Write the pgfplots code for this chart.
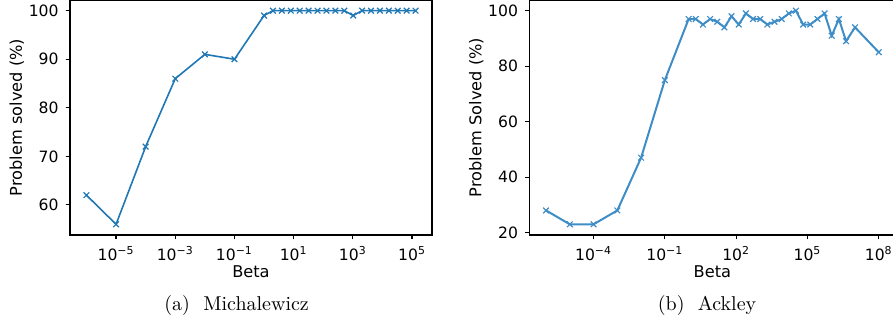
\documentclass[border=0pt]{standalone}
\usepackage{fontspec}
\usepackage{pgfplots}
\pgfplotsset{compat=1.18}
\newfontfamily\dv{DejaVu Sans}
\definecolor{mplblue}{HTML}{1F77B4}
\definecolor{mplblueb}{HTML}{3F8DC6}
\newcommand\tp[1]{10\textsuperscript{#1}}
\pgfplotsset{
  mystyle/.style={
    scale only axis,
    anchor=south west,
    height=117.5pt,
    axis line style={line width=0.6pt, black},
    tick style={line width=0.6pt, black},
    major tick length=2.2pt,
    tick align=outside,
    xtick pos=left, ytick pos=left,
    tick label style={font=\dv\fontsize{7.8}{8}\selectfont},
    /pgf/number format/assume math mode=true,
    xlabel={Beta},
    every axis x label/.style={at={(axis description cs:0.5,0)}, anchor=center, yshift=-18.5pt, font=\dv\fontsize{8.1}{9}\selectfont},
    every axis y label/.style={at={(axis description cs:-0.147,0.5)}, rotate=90, anchor=center, font=\dv\fontsize{8.1}{9}\selectfont},
  }
}
\begin{document}
\begin{tikzpicture}[x=1pt,y=1pt]
\begin{axis}[xmode=log, mystyle,
  at={(35pt,44.5pt)}, width=181pt,
  xmin=2.78e-7, xmax=4.71e5, ymin=53.8, ymax=102.2,
  ytick={60,70,80,90,100},
  xtick={1e-5,1e-3,1e-1,1e1,1e3,1e5},
  xminorticks=false,
  xticklabels={\tp{−5},\tp{−3},\tp{−1},\tp{1},\tp{3},\tp{5}},
  ylabel={Problem solved (\%)},
]
\addplot[color=mplblue, line width=0.8pt, mark=x, mark size=2pt, mark options={line width=0.6pt}] coordinates {
(1e-6,62)(1e-5,56)(1e-4,72)(1e-3,86)(1e-2,91)(1e-1,90)(1,99)(2,100)(4,100)(8,100)(16,100)(32,100)(64,100)(128,100)(256,100)(512,100)(1024,99)(2048,100)(4096,100)(8192,100)(16384,100)(32768,100)(65536,100)(131072,100)
};
\end{axis}
\begin{axis}[xmode=log, mystyle,
  at={(264.7pt,44.5pt)}, width=183pt,
  xmin=2e-7, xmax=5e8, ymin=19.15, ymax=103.85,
  ytick={20,40,60,80,100},
  xtick={1e-4,1e-1,1e2,1e5,1e8},
  xminorticks=false,
  xticklabels={\tp{−4},\tp{−1},\tp{2},\tp{5},\tp{8}},
  ylabel={Problem Solved (\%)},
  every axis y label/.append style={at={(axis description cs:-0.145,0.5)}},
]
\addplot[color=mplblueb, line width=1pt, mark=x, mark size=2pt, mark options={line width=0.6pt}] coordinates {
(1e-6,28)(1e-5,23)(1e-4,23)(1e-3,28)(1e-2,47)(1e-1,75)(1,97)(2,97)(4,95)(8,97)(16,96)(32,94)(64,98)(128,95)(256,99)(512,97)(1024,97)(2048,95)(4096,96)(8192,97)(16384,99)(32768,100)(65536,95)(131072,95)(262144,97)(524288,99)(1048576,91)(2097152,97)(4194304,89)(1e7,94)(1e8,85)
};
\end{axis}
\node[font=\fontsize{10}{12}\selectfont, anchor=base] at (118.3,6.5) {(a)\ \ Michalewicz};
\node[font=\fontsize{10}{12}\selectfont, anchor=base] at (353.5,6.5) {(b)\ \ Ackley};
\pgfresetboundingbox
\path (0,0) rectangle (446.5,162);
\end{tikzpicture}
\end{document}
